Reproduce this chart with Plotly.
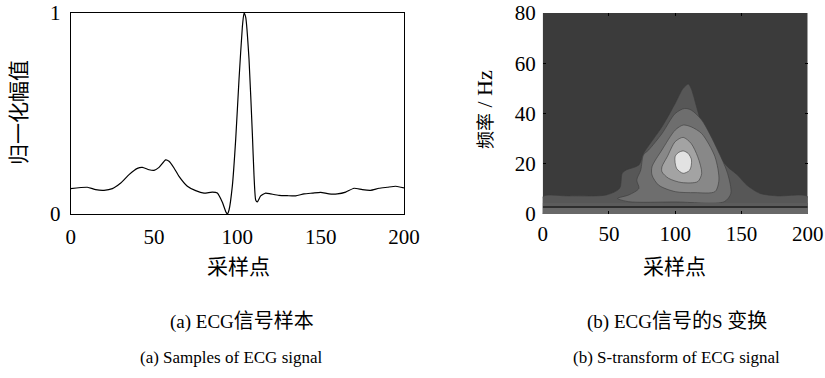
import plotly.graph_objects as go

# ---------------- data ----------------
ecg_x = [0, 10, 15, 20, 25, 30, 35, 40, 43, 47, 50, 53, 57, 59, 62, 65, 70, 75, 80, 85, 88,
         91, 93, 94, 95, 97, 99, 101, 103, 104, 105, 107, 109, 110, 111, 112, 114, 117, 120,
         125, 130, 135, 140, 145, 150, 155, 160, 165, 170, 175, 180, 185, 190, 195, 200]
ecg_y = [0.126, 0.133, 0.121, 0.118, 0.126, 0.154, 0.196, 0.227, 0.232, 0.220, 0.217, 0.232,
         0.269, 0.262, 0.229, 0.187, 0.138, 0.116, 0.104, 0.109, 0.104,
         0.058, 0.013, 0.0, 0.02, 0.14, 0.37, 0.67, 0.93, 1.0, 0.98, 0.77, 0.40, 0.19, 0.07,
         0.06, 0.09, 0.104, 0.10, 0.093, 0.091, 0.09, 0.10, 0.104, 0.108, 0.10, 0.10, 0.109,
         0.128, 0.121, 0.118, 0.128, 0.133, 0.138, 0.13]

# S-transform contour regions (boundaries), outer to inner
lvl1_x = [0, 0, 20, 48, 58, 60, 63, 72.6, 76, 90, 100, 106, 110, 112, 120, 130, 139.5, 147,
          154, 164, 177, 200, 200]
lvl1_y = [0, 6.9, 7.2, 7.6, 10.2, 16.2, 17.5, 19.5, 24, 34.7, 44, 50, 51.7, 50, 36, 25.5,
          18.8, 15.5, 11.5, 8.2, 7.2, 6.9, 0]
lvl2_x = [56.5, 65, 100, 137, 142, 139.5, 132, 120, 112, 107, 100, 90, 80, 76, 74, 71, 72.6, 65]
lvl2_y = [6.2, 4.9, 4.8, 4.9, 8.2, 16.2, 25.5, 37.4, 41.4, 42, 40, 32, 25.5, 23.5, 17.5, 13.5,
          10.2, 7.6]
lvl3_x = [82.5, 87.5, 100, 115, 130, 133, 130, 120, 112, 106, 100, 90, 82.5]
lvl3_y = [15.5, 11.5, 8.9, 8.5, 8.9, 13.5, 22.8, 32, 34.7, 35.4, 33.4, 25.5, 18.8]
lvl4_x = [90, 95, 105, 117, 120, 117, 112, 106, 100, 94, 90]
lvl4_y = [16.8, 14.2, 12.5, 12.9, 16.2, 22.8, 28.1, 30.5, 28.8, 22.8, 18.8]
lvl5_x = [99.9, 101, 106, 111, 112.3, 109.8, 106, 102.3]
lvl5_y = [22.8, 18.2, 16.2, 17.5, 21.5, 24.1, 25.1, 24.4]
level_colors = ["#575757", "#6e6e6e", "#888888", "#a3a3a3", "#e2e2e2"]

# low-frequency bands at the bottom of the S-transform
band_low = [0, 3.2, 2.4]
band_high = [2.4, 4.4, 3.2]
band_colors = ["#686868", "#5c5c5c", "#2e2e2e"]

x_ticks = [0, 50, 100, 150, 200]
y1_ticks = [0, 1]
y2_ticks = [0, 20, 40, 60, 80]
x_range = [0, 200]
y1_range = [0, 1]
y2_range = [0, 80]

# ---------------- figure ----------------
W, H = 825, 378
serif = "Liberation Serif, Times New Roman, Noto Sans CJK SC, serif"
fig = go.Figure()

fig.add_trace(go.Scatter(x=ecg_x, y=ecg_y, mode="lines",
                         line=dict(color="black", width=1.2, shape="spline", smoothing=0.5),
                         xaxis="x", yaxis="y", showlegend=False, hoverinfo="skip"))

# background of contour plot
fig.add_trace(go.Scatter(x=[x_range[0], x_range[1], x_range[1], x_range[0]],
                         y=[y2_range[0], y2_range[0], y2_range[1], y2_range[1]],
                         fill="toself", fillcolor="#3b3b3b", line=dict(width=0), mode="lines",
                         xaxis="x2", yaxis="y2", showlegend=False, hoverinfo="skip"))

for xs, ys, c in zip([lvl1_x, lvl2_x, lvl3_x, lvl4_x, lvl5_x],
                     [lvl1_y, lvl2_y, lvl3_y, lvl4_y, lvl5_y], level_colors):
    fig.add_trace(go.Scatter(x=xs + [xs[0]], y=ys + [ys[0]], fill="toself", fillcolor=c, mode="lines",
                             line=dict(color="#3a3a3a", width=0.6, shape="spline", smoothing=0.8),
                             xaxis="x2", yaxis="y2", showlegend=False, hoverinfo="skip"))

for lo, hi, c in zip(band_low, band_high, band_colors):
    fig.add_trace(go.Scatter(x=[x_range[0], x_range[1], x_range[1], x_range[0]], y=[lo, lo, hi, hi],
                             fill="toself", fillcolor=c, line=dict(width=0), mode="lines",
                             xaxis="x2", yaxis="y2", showlegend=False, hoverinfo="skip"))


def px_x(p):
    return p / W


def px_y(p):
    return 1 - p / H


tickfont = dict(family=serif, size=21, color="black")
common = dict(showgrid=False, zeroline=False, automargin=False, tickfont=tickfont)
fig.update_layout(
    width=W, height=H, margin=dict(l=0, r=0, t=0, b=0, autoexpand=False),
    paper_bgcolor="white", plot_bgcolor="white",
    xaxis=dict(domain=[px_x(70.7), px_x(404)], range=x_range, tickvals=x_ticks,
               showline=True, linecolor="black", linewidth=1, mirror=True,
               ticks="outside", ticklen=4, tickcolor="rgba(0,0,0,0)", **common),
    yaxis=dict(domain=[px_y(214), px_y(13)], range=y1_range, tickvals=y1_ticks,
               showline=True, linecolor="black", linewidth=1, mirror=True,
               ticks="outside", ticklen=5, tickcolor="rgba(0,0,0,0)", **common),
    xaxis2=dict(domain=[px_x(542.7), px_x(807.7)], range=x_range, tickvals=x_ticks, anchor="y2",
                showline=False, mirror="ticks", ticks="inside", ticklen=3, tickcolor="black",
                ticklabelstandoff=5, **common),
    yaxis2=dict(domain=[px_y(214), px_y(13)], range=y2_range, tickvals=y2_ticks, anchor="x2",
                showline=False, mirror="ticks", ticks="inside", ticklen=3, tickcolor="black",
                ticklabelstandoff=6, **common),
)


def txt(x, y, s, size=19, angle=0):
    fig.add_annotation(x=px_x(x), y=px_y(y), xref="paper", yref="paper", text=s, showarrow=False,
                       font=dict(family=serif, size=size, color="black"), textangle=angle,
                       xanchor="center", yanchor="middle")


def cjk(s, size):
    return '<span style="font-size:%dpx">%s</span>' % (size, s)


txt(239, 267, "采样点", 21)
txt(674, 267, "采样点", 21)
txt(19, 113, "归一化幅值", 21, -90)
txt(485, 110, cjk("频率", 18) + " / Hz", 22, -90)
txt(242, 321, "(a) ECG" + cjk("信号样本", 20), 19)
txt(677, 321, "(b) ECG" + cjk("信号的", 20) + "S " + cjk("变换", 20), 19)
txt(231, 357, "(a) Samples of ECG signal", 17)
txt(676, 357, "(b) S-transform of ECG signal", 17)

# remove the default page margin so the 825x378 figure fills the window exactly
fig.write_html("out.html", config={"displayModeBar": False},
               post_script="document.body.style.margin='0';")
